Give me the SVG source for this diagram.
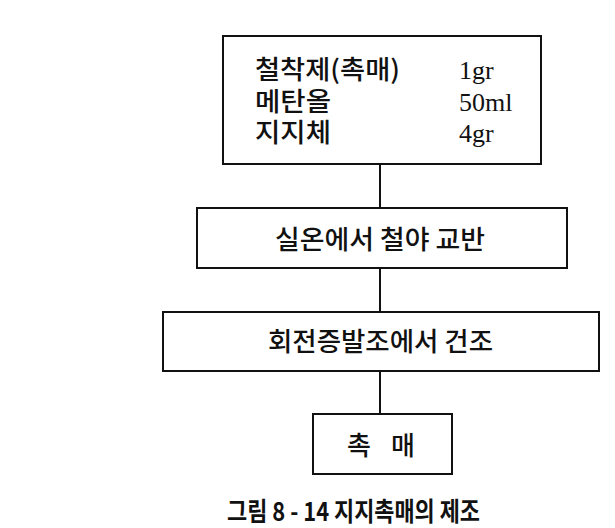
<svg xmlns="http://www.w3.org/2000/svg" width="615" height="528" viewBox="0 0 615 528">
<style>
.box{fill:#fff;stroke:#111;stroke-width:2}
.ln{stroke:#111;stroke-width:2;fill:none}
.ko{font-family:"Noto Sans CJK KR","Noto Sans",sans-serif;font-size:26px;font-weight:500;fill:#111}
.num{font-family:"Liberation Serif",serif;font-size:26px;fill:#111}
.cap{font-family:"Noto Sans CJK KR","Noto Sans",sans-serif;font-size:26px;font-weight:bold;fill:#111}
</style>
<rect width="615" height="528" fill="#fff"/>
<g id="connectors">
<line class="ln" x1="380" y1="164" x2="380" y2="208"/>
<line class="ln" x1="380" y1="268" x2="380" y2="312"/>
<line class="ln" x1="380" y1="371" x2="380" y2="414"/>
</g>
<g id="node-ingredients">
<rect class="box" x="223" y="36" width="318" height="128"/>
<text class="ko" x="255" y="79" textLength="145" lengthAdjust="spacingAndGlyphs">철착제(촉매)</text>
<text class="ko" x="255" y="111" textLength="76" lengthAdjust="spacingAndGlyphs">메탄올</text>
<text class="ko" x="255" y="142" textLength="76" lengthAdjust="spacingAndGlyphs">지지체</text>
<text class="num" x="459" y="79">1gr</text>
<text class="num" x="459" y="111">50ml</text>
<text class="num" x="459" y="142">4gr</text>
</g>
<g id="node-stir">
<rect class="box" x="197" y="208" width="370" height="60"/>
<text class="ko" x="275" y="249" textLength="210" lengthAdjust="spacingAndGlyphs">실온에서 철야 교반</text>
</g>
<g id="node-dry">
<rect class="box" x="163" y="312" width="436" height="59"/>
<text class="ko" x="268" y="351" textLength="225" lengthAdjust="spacingAndGlyphs">회전증발조에서 건조</text>
</g>
<g id="node-catalyst">
<rect class="box" x="313" y="414" width="139" height="60"/>
<text class="ko" x="347" y="455" textLength="68" lengthAdjust="spacing">촉 매</text>
</g>
<text class="cap" x="227" y="521" textLength="253" lengthAdjust="spacingAndGlyphs">그림 8 - 14 지지촉매의 제조</text>
</svg>
